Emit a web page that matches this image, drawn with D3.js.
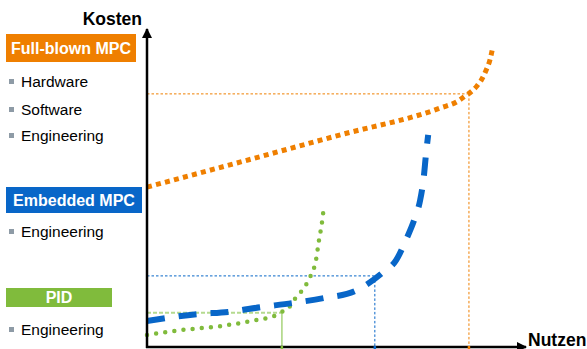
<!DOCTYPE html>
<html lang="de">
<head>
<meta charset="UTF-8">
<title>Kosten / Nutzen</title>
<script src="https://d3js.org/d3.v7.min.js"></script>
<style>
  body { margin: 0; background: #fff; }
  text { font-family: "Liberation Sans", Arial, sans-serif; }
</style>
</head>
<body>
<svg id="chart"></svg>
<script>
// curves: [nutzen, kosten] in arbitrary units 0..100
const fullMpc = [[0, 50.6], [25, 58.7], [50, 66.9], [76.9, 75.6], [81.6, 77.8], [83.5, 79.4],
  [85.0, 80.7], [86.6, 82.6], [87.9, 84.8], [89.0, 87.6], [90.0, 90.8], [90.8, 95.2]];
const embeddedMpc = [[0, 8.2], [13.1, 10.4], [21.3, 11.1], [29.9, 12.6], [38.1, 13.9], [46.5, 15.5],
  [54.6, 17.7], [61.7, 23.4], [65.4, 27.5], [68.2, 34.5], [70.3, 40.8], [71.7, 46.5],
  [72.7, 54.4], [73.2, 60.7], [73.8, 67.1]];
const pid = [[0, 3.8], [9.4, 5.4], [19.2, 6.6], [28.6, 8.5], [33.3, 9.8], [35.4, 11.1], [37.3, 12.6],
  [38.8, 15.2], [40.4, 17.4], [41.7, 19.6], [42.8, 22.1], [44.4, 27.8], [45.1, 33.5],
  [45.9, 39.2], [46.5, 45.2]];
// operating points (nutzen, kosten) marked by guide lines
const markers = [[84.5, 80.1], [59.8, 22.5], [35.4, 10.8]];
const groupNames = ["Full-blown MPC", "Embedded MPC", "PID"];
const groupItems = [["Hardware", "Software", "Engineering"], ["Engineering"], ["Engineering"]];
const axisLabels = ["Nutzen", "Kosten"];

const W = 587, H = 349;
const orange = "#ef7f00", blue = "#0866c8", green = "#80bb3c", lightGreen = "#b5da8f";
const svg = d3.select("#chart").attr("width", W).attr("height", H);

const x = d3.scaleLinear().domain([0, 100]).range([147, 528]);
const y = d3.scaleLinear().domain([0, 100]).range([347, 31]);
const line = d3.line().x(d => x(d[0])).y(d => y(d[1])).curve(d3.curveMonotoneX);

// guide lines
const guides = [
  { c: orange, hDash: "2.5 2", vDash: "2.5 2", hw: 1, vw: 1 },
  { c: blue, hDash: "2.5 2", vDash: "2.5 2", hw: 1, vw: 1 },
  { c: lightGreen, hDash: "4 2", vDash: null, hw: 2, vw: 1.8 }
];
markers.forEach((m, i) => {
  const g = guides[i];
  svg.append("line").attr("x1", x(0)).attr("x2", x(m[0])).attr("y1", y(m[1])).attr("y2", y(m[1]))
    .attr("stroke", g.c).attr("stroke-width", g.hw).attr("stroke-dasharray", g.hDash);
  svg.append("line").attr("x1", x(m[0])).attr("x2", x(m[0])).attr("y1", y(m[1])).attr("y2", y(0))
    .attr("stroke", g.c).attr("stroke-width", g.vw).attr("stroke-dasharray", g.vDash);
});

// curves
svg.append("path").datum(pid).attr("d", line).attr("fill", "none")
  .attr("stroke", green).attr("stroke-width", 4.5).attr("stroke-linecap", "round")
  .attr("stroke-dasharray", "0 9.2");
svg.append("path").datum(embeddedMpc).attr("d", line).attr("fill", "none")
  .attr("stroke", blue).attr("stroke-width", 6).attr("stroke-dasharray", "18 14");
svg.append("path").datum(fullMpc).attr("d", line).attr("fill", "none")
  .attr("stroke", orange).attr("stroke-width", 5).attr("stroke-dasharray", "5 4.3");

// axes with arrows
svg.append("defs").append("marker").attr("id", "arrow")
  .attr("viewBox", "0 0 10 10").attr("refX", 9).attr("refY", 5)
  .attr("markerWidth", 4).attr("markerHeight", 4).attr("orient", "auto")
  .append("path").attr("d", "M0,0 L10,5 L0,10 z").attr("fill", "#000");
svg.append("line").attr("x1", x(0)).attr("x2", x(0)).attr("y1", y(0) + 1).attr("y2", 29)
  .attr("stroke", "#000").attr("stroke-width", 2.5).attr("marker-end", "url(#arrow)");
svg.append("line").attr("x1", x(0) - 1).attr("x2", 526).attr("y1", y(0)).attr("y2", y(0))
  .attr("stroke", "#000").attr("stroke-width", 2.5).attr("marker-end", "url(#arrow)");

// colored ticks on x axis
markers.forEach((m, i) => {
  svg.append("line").attr("x1", x(m[0])).attr("x2", x(m[0])).attr("y1", y(0) - 1).attr("y2", y(0) + 3)
    .attr("stroke", [orange, blue, green][i]).attr("stroke-width", 2.5);
});

svg.append("text").attr("x", 528).attr("y", 346).attr("font-size", 17.5).attr("font-weight", "bold")
  .text(axisLabels[0]);
svg.append("text").attr("x", 142).attr("y", 25).attr("text-anchor", "end")
  .attr("font-size", 17.5).attr("font-weight", "bold").text(axisLabels[1]);

// left legend blocks
const boxes = [
  { top: 34, h: 28, w: 130, c: orange, base: 54, items: [87, 115, 141] },
  { top: 187, h: 26, w: 136, c: blue, base: 206, items: [237] },
  { top: 288, h: 19, w: 106, c: green, base: 303, items: [335] }
];
groupNames.forEach((name, i) => {
  const b = boxes[i];
  svg.append("rect").attr("x", 6).attr("y", b.top).attr("width", b.w).attr("height", b.h).attr("fill", b.c);
  svg.append("text").attr("x", 6 + b.w / 2).attr("y", b.base).attr("text-anchor", "middle")
    .attr("fill", "#fff").attr("font-weight", "bold").attr("font-size", 16).text(name);
  groupItems[i].forEach((t, j) => {
    const by = b.items[j];
    svg.append("rect").attr("x", 9).attr("y", by - 8).attr("width", 5).attr("height", 5).attr("fill", "#8e9ba6");
    svg.append("text").attr("x", 21).attr("y", by).attr("font-size", 15.5).attr("fill", "#000").text(t);
  });
});
</script>
</body>
</html>
